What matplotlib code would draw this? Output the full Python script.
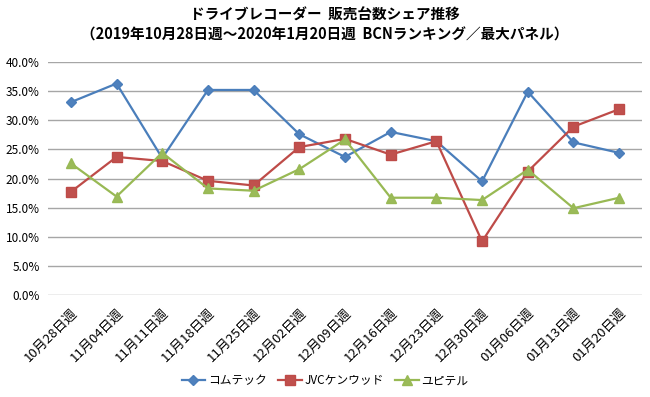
import matplotlib
matplotlib.use("Agg")
import matplotlib.pyplot as plt
from matplotlib.ticker import FuncFormatter

plt.rcParams['font.family'] = ['Noto Sans CJK JP', 'DejaVu Sans']

# data (share, %)
weeks = ["10月28日週", "11月04日週", "11月11日週", "11月18日週", "11月25日週",
         "12月02日週", "12月09日週", "12月16日週", "12月23日週", "12月30日週",
         "01月06日週", "01月13日週", "01月20日週"]
comtec = [33.1, 36.3, 23.5, 35.2, 35.2, 27.6, 23.7, 28.0, 26.4, 19.5, 34.9, 26.2, 24.4]
jvc = [17.7, 23.7, 23.0, 19.6, 18.8, 25.4, 26.8, 24.1, 26.4, 9.2, 21.2, 28.9, 31.9]
yupiteru = [22.6, 16.9, 24.4, 18.3, 17.9, 21.6, 26.7, 16.7, 16.7, 16.3, 21.5, 14.9, 16.7]

fig = plt.figure(figsize=(6.5, 3.97), dpi=100)
ax = fig.add_axes([48/650, 1-295/397, 594/650, 233/397])

x = range(len(weeks))
ax.plot(x, comtec, color='#4A7EBB', lw=1.6, marker='D', ms=5.5, mfc='#4F81BD', mec='#4A7EBB', label='コムテック')
ax.plot(x, jvc, color='#BE4B48', lw=1.6, marker='s', ms=6.5, mfc='#C0504D', mec='#BE4B48', label='JVCケンウッド')
ax.plot(x, yupiteru, color='#98B954', lw=1.6, marker='^', ms=7, mfc='#9BBB59', mec='#98B954', label='ユピテル')

ax.set_xlim(-0.5, len(weeks)-0.5)
ax.set_ylim(0, 40)
ax.set_yticks(range(0, 41, 5))
ax.yaxis.set_major_formatter(FuncFormatter(lambda v, p: f"{v:.1f}%"))
ax.grid(axis='y', color='#A6A6A6', lw=1)
ax.set_axisbelow(True)
for s in ax.spines.values():
    s.set_visible(False)
ax.tick_params(length=0, labelsize=8.5, colors='#000000')
ax.tick_params(axis='y', pad=6)
ax.tick_params(axis='x', pad=8)
ax.set_xticks(list(x))
ax.set_xticklabels(weeks, rotation=45, ha='right', rotation_mode='anchor', fontsize=9.5)

fig.text(0.5, 0.962, "ドライブレコーダー  販売台数シェア推移", ha='center', va='center', fontsize=10.5, fontweight='bold')
fig.text(0.5, 0.912, "（2019年10月28日週～2020年1月20日週  BCNランキング／最大パネル）", ha='center', va='center', fontsize=10.5, fontweight='bold')

fig.legend(loc='center', bbox_to_anchor=(0.5, 1-381/397), ncol=3, frameon=False, fontsize=8.5,
           handlelength=2.0, columnspacing=1.0, handletextpad=0.2)

fig.savefig("out.png", dpi=100)
